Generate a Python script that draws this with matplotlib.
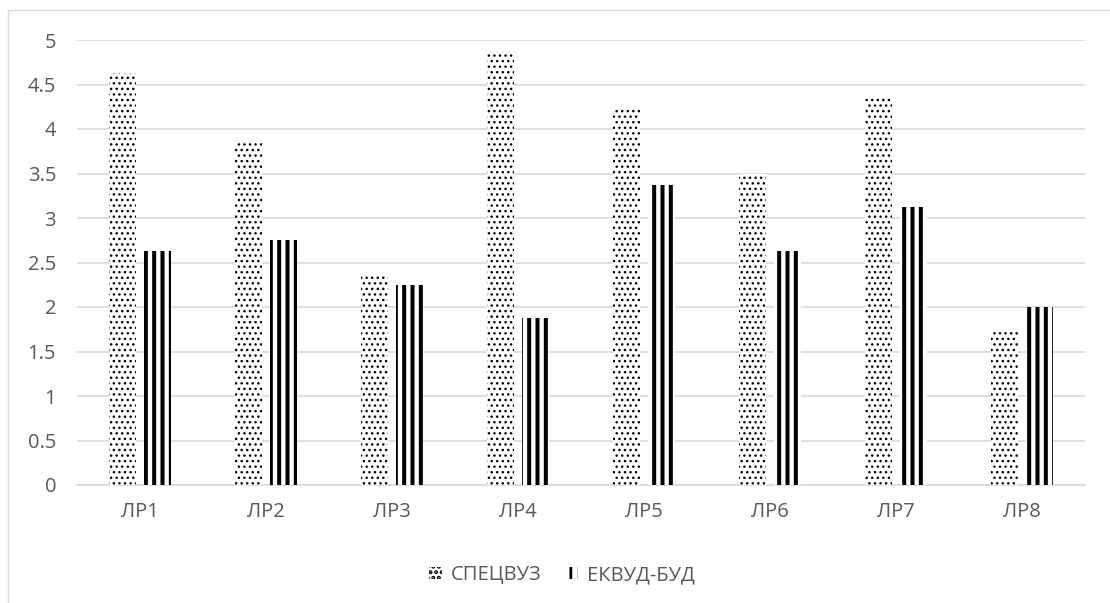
import matplotlib
matplotlib.use("Agg")
from matplotlib import pyplot as plt
from matplotlib.patches import Rectangle
import numpy as np

labels = ['ЛР1', 'ЛР2', 'ЛР3', 'ЛР4', 'ЛР5', 'ЛР6', 'ЛР7', 'ЛР8']
specvuz = [4.625, 3.875, 2.375, 4.875, 4.25, 3.5, 4.375, 1.75]
ekvud = [2.625, 2.75, 2.25, 1.875, 3.375, 2.625, 3.125, 2.0]
series_names = ['СПЕЦВУЗ', 'ЕКВУД-БУД']
yticks = [0, 0.5, 1, 1.5, 2, 2.5, 3, 3.5, 4, 4.5, 5]

plt.rcParams['font.family'] = ['Open Sans', 'DejaVu Sans']
txt = '#595959'
grid = '#d9d9d9'
fs = 14.5

W, H = 1110, 603
fig = plt.figure(figsize=(W/100, H/100), dpi=100)
# thin outer frame of the chart area
fig.patches.append(Rectangle((8/W, -0.1), 1.2, 1 - 10/H + 0.1, transform=fig.transFigure,
                             fill=False, edgecolor=grid, linewidth=1))

ax = fig.add_axes([77/W, (H-485)/H, 1008/W, 445/H])

x = np.arange(len(labels))
w = 0.214
off = 0.139

def bars(xs, vals, hatch, hlw, name):
    b = ax.bar(xs, vals, w, color='white', edgecolor='black', linewidth=0,
               hatch=hatch, label=name, zorder=3)
    for p in b:
        if hasattr(p, 'set_hatch_linewidth'):
            p.set_hatch_linewidth(hlw)
    return b

with plt.rc_context({'hatch.linewidth': 1.0}):
    b1 = bars(x - off, specvuz, '...', 1.0, series_names[0])
with plt.rc_context({'hatch.linewidth': 2.9}):
    b2 = bars(x + off, ekvud, '||', 2.9, series_names[1])

ax.set_xlim(-0.5, len(labels) - 0.5)
ax.set_ylim(0, 5)
ax.set_yticks(yticks)
ax.set_yticklabels([f'{v:g}' for v in yticks])
ax.set_xticks(x)
ax.set_xticklabels(labels)
ax.grid(axis='y', color=grid, linewidth=1.2, zorder=0)
for s in ['top', 'right', 'left']:
    ax.spines[s].set_visible(False)
ax.spines['bottom'].set_color(grid)
ax.spines['bottom'].set_linewidth(1.2)
ax.tick_params(axis='both', length=0, colors=txt, labelsize=fs)
ax.tick_params(axis='y', pad=15)
ax.tick_params(axis='x', pad=12)

with plt.rc_context({'hatch.linewidth': 2.0}):
    leg = fig.legend(handles=[b1, b2], loc='center', bbox_to_anchor=(562/W, 1 - 575/H),
                     ncol=2, frameon=False, fontsize=fs, labelcolor=txt,
                     handlelength=0.6, handleheight=0.6, handletextpad=0.45,
                     columnspacing=1.2)

fig.savefig('out.png', dpi=100)
